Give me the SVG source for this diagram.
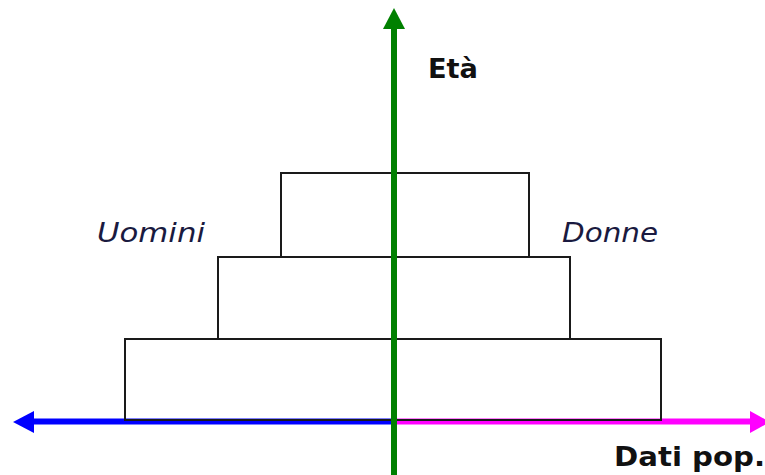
<svg xmlns="http://www.w3.org/2000/svg" width="765" height="475" viewBox="0 0 765 475">
<style>
.bar{fill:none;stroke:#1a1a1a;stroke-width:2}
.lbl{font-family:"DejaVu Sans","Liberation Sans",sans-serif;font-size:26px;fill:#111}
.b{font-weight:bold}
.it{font-style:italic;fill:#1a1a40}
</style>
<rect width="765" height="475" fill="#fff"/>
<g id="connectors">
<g id="axis-men">
<line x1="394" y1="421.5" x2="30" y2="421.5" stroke="#0000ff" stroke-width="6"/>
<polygon points="13,422 34,411 34,433" fill="#0000ff"/>
</g>
<g id="axis-women">
<line x1="394" y1="421.5" x2="752" y2="421.5" stroke="#ff00ff" stroke-width="6"/>
<polygon points="770,422 750,411 750,433" fill="#ff00ff"/>
</g>
</g>
<g id="bar-top"><rect class="bar" x="281" y="173" width="248" height="84"/></g>
<g id="bar-middle"><rect class="bar" x="218" y="257" width="352" height="82"/></g>
<g id="bar-bottom"><rect class="bar" x="125" y="339" width="536" height="81"/></g>
<g id="axis-age">
<line x1="394" y1="475" x2="394" y2="26" stroke="#008000" stroke-width="6"/>
<polygon points="394,8 383,29 405,29" fill="#008000"/>
</g>
<g id="label-eta"><text class="lbl b" x="428" y="78" textLength="50" lengthAdjust="spacingAndGlyphs">Età</text></g>
<g id="label-dati"><text class="lbl b" x="614" y="466" textLength="151" lengthAdjust="spacingAndGlyphs">Dati pop.</text></g>
<g id="label-uomini"><text class="lbl it" x="97" y="242" textLength="108" lengthAdjust="spacingAndGlyphs">Uomini</text></g>
<g id="label-donne"><text class="lbl it" x="562" y="242" textLength="96" lengthAdjust="spacingAndGlyphs">Donne</text></g>
</svg>
